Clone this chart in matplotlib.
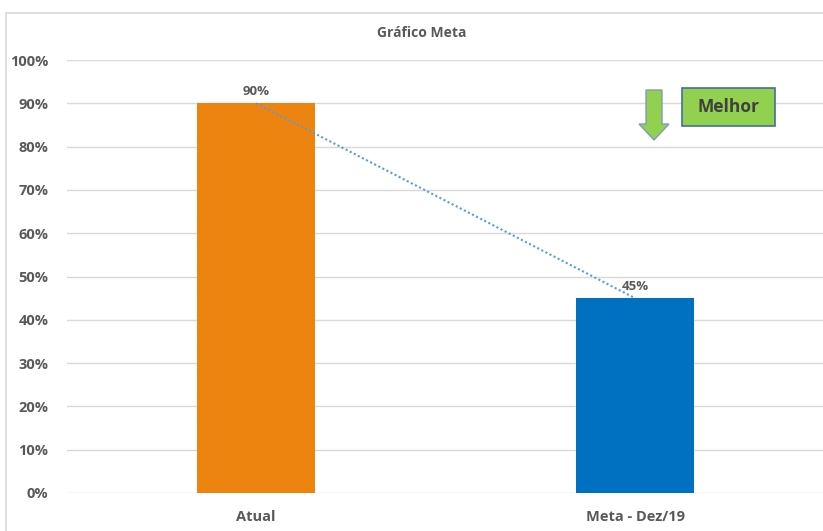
import matplotlib
matplotlib.use("Agg")
import matplotlib.pyplot as plt
from matplotlib.patches import Polygon, Rectangle
from matplotlib.ticker import PercentFormatter

categories = ["Atual", "Meta - Dez/19"]
values = [0.90, 0.45]
bar_colors = ["#EE8410", "#0070C0"]
yticks = [0, 0.1, 0.2, 0.3, 0.4, 0.5, 0.6, 0.7, 0.8, 0.9, 1.0]
title = "Gráfico Meta"
badge_text = "Melhor"

W, H = 823, 531
plt.rcParams['font.family'] = ['Open Sans', 'DejaVu Sans']
fig = plt.figure(figsize=(W / 100, H / 100), dpi=100)

def fx(px):
    return px / W

def fy(py):
    return 1 - py / H

# outer chart frame
fig.patches.append(Rectangle((fx(6), fy(540)), 1, fy(13) - fy(540), transform=fig.transFigure,
                             fill=False, edgecolor="#D9D9D9", linewidth=1.2))

ax = fig.add_axes([fx(66.5), fy(493), fx(823) - fx(66.5), fy(60) - fy(493)])
x = list(range(len(categories)))
ax.bar(x, values, width=0.31, color=bar_colors, zorder=3)
ax.plot(x, values, linestyle=(0, (1, 1.2)), color="#5B9BD5", linewidth=1.5, zorder=4)
for xi, v in zip(x, values):
    ax.annotate(f"{v*100:.0f}%", (xi, v), xytext=(0, 4), textcoords="offset points",
                ha="center", va="bottom", fontsize=9.5, fontweight="bold", color="#595959")

ax.set_xlim(-0.5, (823 - 256) / 379)
ax.set_ylim(0, 1)
ax.set_yticks(yticks)
ax.yaxis.set_major_formatter(PercentFormatter(1.0, decimals=0))
ax.set_xticks(x)
ax.set_xticklabels(categories)
ax.grid(axis="y", color="#D9D9D9", linewidth=1, zorder=0)
for s in ax.spines.values():
    s.set_visible(False)
ax.tick_params(axis="both", length=0, labelsize=10.5, labelcolor="#595959")
ax.tick_params(axis="y", pad=13)
ax.tick_params(axis="x", pad=12)
for lbl in ax.get_xticklabels() + ax.get_yticklabels():
    lbl.set_fontweight("bold")

fig.text(fx(422), fy(33), title, ha="center", va="center", fontsize=10,
         fontweight="bold", color="#595959")

# green down arrow
arrow_px = [(646, 90), (662, 90), (662, 124), (669, 124), (654, 140), (639, 124), (646, 124)]
fig.patches.append(Polygon([(fx(a), fy(b)) for a, b in arrow_px], closed=True,
                           transform=fig.transFigure, facecolor="#92D050",
                           edgecolor="#7E9CB8", linewidth=1))

# "Melhor" badge
fig.patches.append(Rectangle((fx(682), fy(126)), fx(775) - fx(682), fy(88) - fy(126),
                             transform=fig.transFigure, facecolor="#92D050",
                             edgecolor="#41719C", linewidth=1.2))
fig.text(fx(728.5), fy(107), badge_text, ha="center", va="center", fontsize=12.5,
         fontweight="bold", color="#404040")

fig.savefig("out.png", dpi=100, facecolor="white")
